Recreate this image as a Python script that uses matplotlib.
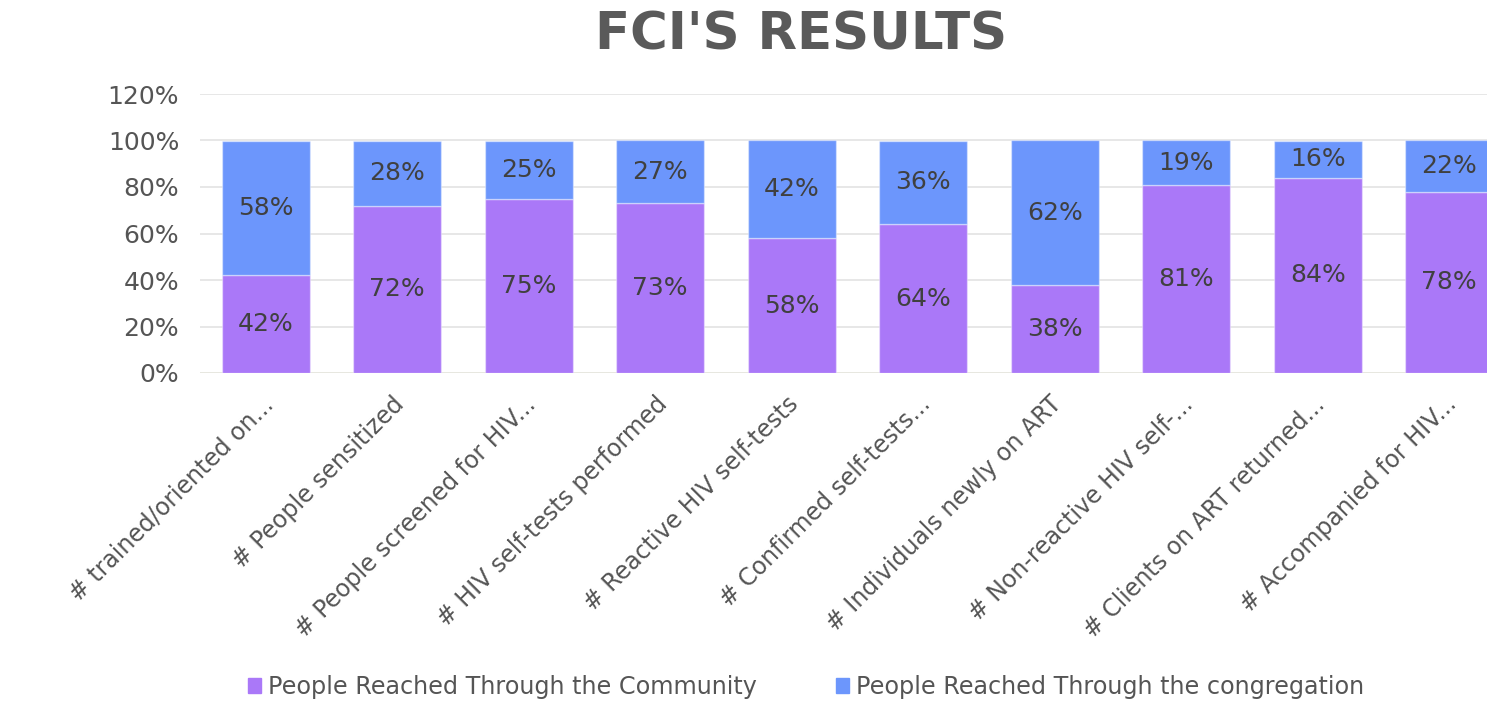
import numpy as np
import matplotlib.pyplot as plt
import matplotlib.transforms as mtransforms
from matplotlib.patches import Patch

categories = [
    "# trained/oriented on...",
    "# People sensitized",
    "# People screened for HIV...",
    "# HIV self-tests performed",
    "# Reactive HIV self-tests",
    "# Confirmed self-tests...",
    "# Individuals newly on ART",
    "# Non-reactive HIV self-...",
    "# Clients on ART returned...",
    "# Accompanied for HIV...",
]
community = [42, 72, 75, 73, 58, 64, 38, 81, 84, 78]
congregation = [58, 28, 25, 27, 42, 36, 62, 19, 16, 22]
series_names = ["People Reached Through the Community",
                "People Reached Through the congregation"]
yticks = [0, 20, 40, 60, 80, 100, 120]

purple = "#aa78f8"
blue = "#6c96fc"
text_col = "#555555"

fig = plt.figure(figsize=(14.87, 7.03), dpi=100)
# axes deliberately extends past the right edge (chart is cropped there)
ax = fig.add_axes([200 / 1487, 330 / 703, 1315 / 1487, 279 / 703])

x = np.arange(len(categories))
w = 0.67
ax.bar(x, community, w, color=purple, edgecolor=(1, 1, 1, 0.4), linewidth=1, zorder=2)
ax.bar(x, congregation, w, bottom=community, color=blue,
       edgecolor=(1, 1, 1, 0.4), linewidth=1, zorder=2)

for i in range(len(x)):
    ax.text(x[i], community[i] / 2, f"{community[i]}%", ha="center", va="center",
            fontsize=18, color="#404040", zorder=3)
    ax.text(x[i], community[i] + congregation[i] / 2, f"{congregation[i]}%",
            ha="center", va="center", fontsize=18, color="#404040", zorder=3)

ax.set_xlim(-0.5, len(x) - 0.5)
ax.set_ylim(0, 120)
ax.set_yticks(yticks)
ax.set_yticklabels([f"{v}%" for v in yticks], fontsize=18, color=text_col)
ax.grid(axis="y", color="#e3e3e3", linewidth=1.2, zorder=0)
ax.axhline(0, color="#fffbd0", linewidth=2, zorder=1)

# category labels drawn as text so they can be nudged a little left
ax.set_xticks(x)
ax.set_xticklabels([])
offset = mtransforms.ScaledTranslation(-5 / 100, -19 / 100, fig.dpi_scale_trans)
for i, cat in enumerate(categories):
    ax.text(x[i], 0, cat, transform=ax.get_xaxis_transform() + offset,
            rotation=45, ha="right", va="top", rotation_mode="anchor",
            fontsize=17, color=text_col, clip_on=False)

ax.tick_params(axis="y", length=0, pad=15)
ax.tick_params(axis="x", length=0)
for s in ax.spines.values():
    s.set_visible(False)

fig.text(801 / 1487, 1 - 35 / 703, "FCI'S RESULTS", ha="center", va="center",
         fontsize=37, fontweight="bold", color="#5a5a5a")

handles = [Patch(color=purple), Patch(color=blue)]
fig.legend(handles, series_names, loc="center", bbox_to_anchor=(806 / 1487, 1 - 687 / 703),
           ncol=2, frameon=False, fontsize=17.2, labelcolor=text_col,
           handlelength=0.55, handleheight=0.55, handletextpad=0.3, columnspacing=3.3)

fig.savefig("out.png", dpi=100)
